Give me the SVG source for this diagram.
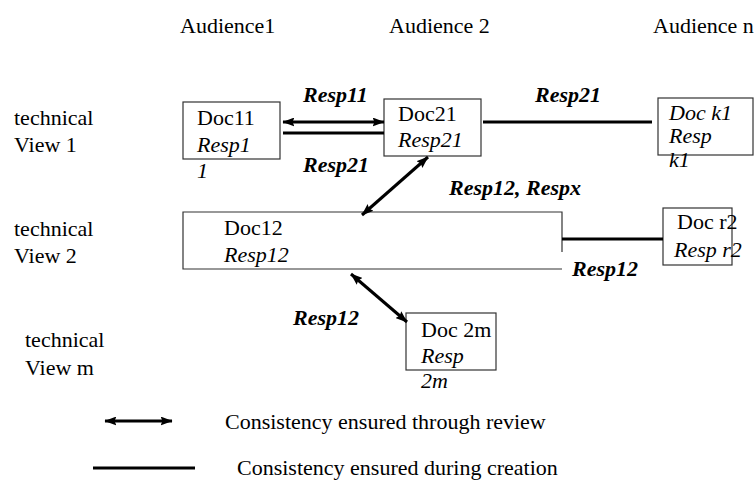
<svg xmlns="http://www.w3.org/2000/svg" width="756" height="483" viewBox="0 0 756 483">
<style>
text{font-family:"Liberation Serif","Times New Roman",serif;font-size:22px;fill:#000}
.i{font-style:italic}
.bi{font-style:italic;font-weight:bold}
.box{fill:#fff;stroke:#333;stroke-width:1.2}
.rev{stroke:#000;stroke-width:3;fill:none;marker-start:url(#ah);marker-end:url(#ah)}
.cre{stroke:#000;stroke-width:3;fill:none}
</style>
<defs>
<marker id="ah" viewBox="0 0 4 3" refX="3.8" refY="1.5" markerWidth="4" markerHeight="3" orient="auto-start-reverse" markerUnits="strokeWidth">
<path d="M0,0 L4,1.5 L0,3 L0.6,1.5 z" fill="#000"/>
</marker>
</defs>
<g id="headers">
<text x="180" y="33">Audience1</text>
<text x="389" y="33">Audience 2</text>
<text x="653" y="33">Audience n</text>
</g>
<g id="views">
<text x="14" y="125">technical</text>
<text x="14" y="152">View 1</text>
<text x="14" y="236">technical</text>
<text x="14" y="263">View 2</text>
<text x="25" y="347">technical</text>
<text x="25" y="375">View m</text>
</g>
<g id="doc11">
<rect class="box" x="183" y="102" width="97" height="57"/>
<text x="197" y="125">Doc11</text>
<text class="i" x="197" y="152">Resp1</text>
<text class="i" x="197" y="178">1</text>
</g>
<g id="doc21">
<rect class="box" x="384" y="99" width="97" height="57"/>
<text x="398" y="121">Doc21</text>
<text class="i" x="398" y="147">Resp21</text>
</g>
<g id="dock1">
<rect class="box" x="658" y="98" width="95" height="57"/>
<text class="i" x="669" y="120">Doc k1</text>
<text class="i" x="669" y="143">Resp</text>
<text class="i" x="669" y="167">k1</text>
</g>
<g id="doc12">
<path class="box" d="M562 252 V212 H183 V269 H562"/>
<text x="224" y="235">Doc12</text>
<text class="i" x="224" y="262">Resp12</text>
</g>
<g id="docr2">
<rect class="box" x="663" y="208" width="69" height="57"/>
<text x="677" y="229">Doc r2</text>
<text class="i" x="674" y="257">Resp r2</text>
</g>
<g id="doc2m">
<rect class="box" x="406" y="313" width="90" height="57"/>
<text x="421" y="337">Doc 2m</text>
<text class="i" x="421" y="363">Resp</text>
<text class="i" x="421" y="388">2m</text>
</g>
<g id="connectors">
<line class="rev" x1="283" y1="122" x2="384" y2="122"/>
<line class="cre" x1="283" y1="133" x2="384" y2="133"/>
<line class="cre" x1="483" y1="122" x2="652" y2="122"/>
<line class="rev" x1="428" y1="157" x2="362" y2="215"/>
<line class="cre" x1="562" y1="239" x2="663" y2="239"/>
<line class="rev" x1="351" y1="274" x2="407" y2="322"/>
</g>
<g id="labels">
<text class="bi" x="303" y="102">Resp11</text>
<text class="bi" x="303" y="172">Resp21</text>
<text class="bi" x="535" y="102">Resp21</text>
<text class="bi" x="449" y="195">Resp12, Respx</text>
<text class="bi" x="572" y="276">Resp12</text>
<text class="bi" x="293" y="325">Resp12</text>
</g>
<g id="legend">
<line class="rev" x1="105" y1="421" x2="172" y2="421"/>
<text x="225" y="429">Consistency ensured through review</text>
<line class="cre" x1="93" y1="468" x2="195" y2="468"/>
<text x="237" y="475">Consistency ensured during creation</text>
</g>
</svg>
